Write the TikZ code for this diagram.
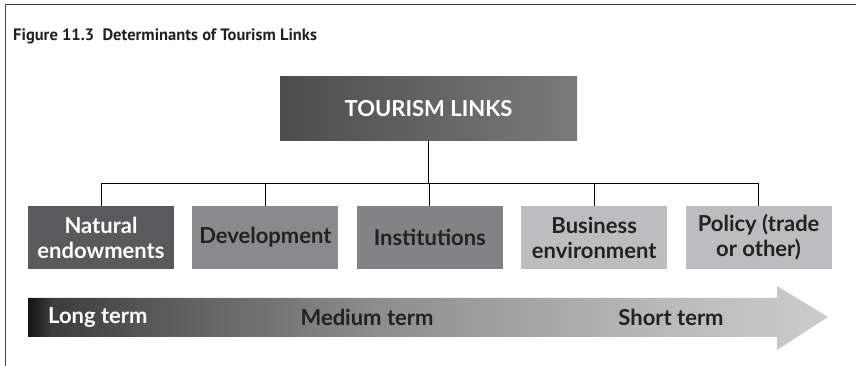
\documentclass[tikz,border=0pt]{standalone}
\usepackage{fontspec}
\setmainfont{Lato}
\newfontfamily\titlefont{PT Sans}
\usetikzlibrary{positioning}
\definecolor{inkDark}{HTML}{222222}
\definecolor{boxDark}{HTML}{5A5A5C}
\definecolor{boxMid}{HTML}{8A8A8C}
\definecolor{boxLight}{HTML}{BDBDBF}
\pgfdeclarehorizontalshading{timeshade}{100bp}{color(0bp)=(black!92); color(25bp)=(black!92);
  color(26.5bp)=(black!76); color(32.5bp)=(black!66); color(46.5bp)=(black!45);
  color(65bp)=(black!27); color(75bp)=(black!20); color(100bp)=(black!20)}

\begin{document}
\begin{tikzpicture}[
  x=1pt, y=1pt,
  det/.style={minimum width=146pt, minimum height=63pt, inner sep=0pt, align=center,
              font=\fontsize{22}{25}\selectfont\bfseries, text=inkDark},
  term/.style={font=\fontsize{22}{25}\selectfont\bfseries, inner sep=0pt},
  link/.style={line width=1pt, black},
  node distance=18pt
]
  \useasboundingbox (0,0) rectangle (856,366);

  % Frame
  \draw[line width=1pt, black!75] (5,0) -- (5,361) -- (856,361);

  % Title
  \node[anchor=base west, inner sep=0pt, font=\titlefont\fontsize{16.5}{18}\selectfont\bfseries, text=inkDark]
    (title) at (13,325.5) {Figure 11.3\ \ Determinants of Tourism Links};

  % Tourism links
  \node[minimum width=297pt, minimum height=64pt, inner sep=0pt, left color=black!70,
        right color=black!52, text=white, font=\fontsize{22}{25}\selectfont\bfseries]
    (links) at (428.5,257) {TOURISM LINKS};

  % Determinants
  \node[det, fill=boxDark, text=white] (nat) at (101,128.5) {Natural\\endowments};
  \node[det, fill=boxMid, right=of nat] (dev) {Development};
  \node[det, fill=boxMid!95!black, right=of dev] (inst) {Institutions};
  \node[det, fill=boxLight, right=of inst] (bus) {Business\\environment};
  \node[det, fill=boxLight, right=of bus] (pol) {Policy (trade\\or other)};

  % Connectors
  \coordinate (bar) at (0,182);
  \draw[link] (links.south) -- (links.south |- bar);
  \draw[link] (nat.north) -- (nat.north |- bar) -- (pol.north |- bar) -- (pol.north);
  \foreach \n in {dev,inst,bus}
    \draw[link] (\n.north) -- (\n.north |- bar);

  % Time arrow
  \shade[shading=timeshade]
    (28,68) -- (777,68) -- (777,80) -- (828,49) -- (777,16) -- (777,29) -- (28,29) -- cycle;
  \node[term, anchor=west, text=white] (long) at (48,48.5) {Long term};
  \node[term, text=inkDark] (medium) at (367,48.5) {Medium term};
  \node[term, text=inkDark] (short) at (671,48.5) {Short term};

\end{tikzpicture}
\end{document}
